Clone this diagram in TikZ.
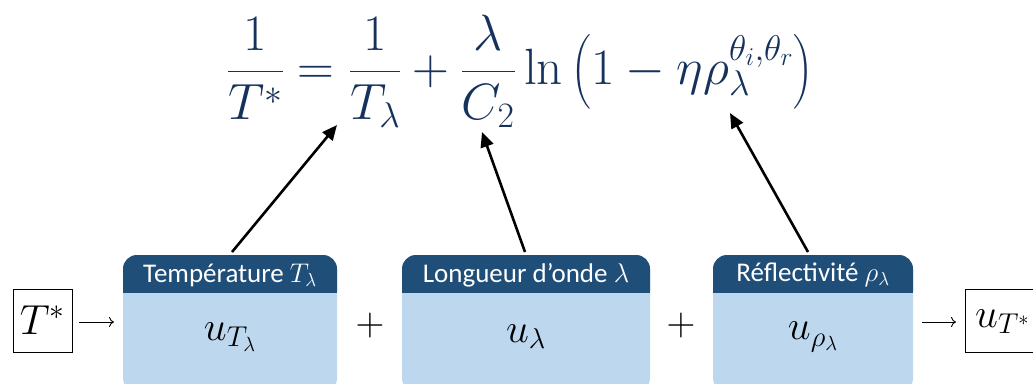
\documentclass[tikz,border=0pt]{standalone}
\usepackage{fix-cm}
\usepackage{amsmath}
\usepackage[no-math]{fontspec}
\setmainfont{Carlito}
\usetikzlibrary{arrows.meta}
\definecolor{hdr}{RGB}{31,78,121}
\definecolor{bdy}{RGB}{189,215,238}
\definecolor{eqc}{RGB}{22,50,92}
\tikzset{
  hdrtext/.style={text=white, font=\fontsize{27}{32}\selectfont, inner sep=0pt},
  bodytext/.style={font=\fontsize{41}{48}\selectfont, inner sep=0pt},
  valbox/.style={draw=black, line width=1pt, inner sep=0pt, font=\fontsize{42}{48}\selectfont},
  bigarrow/.style={line width=2.6pt, -{Triangle[length=15pt,width=13pt]}},
  smallarrow/.style={line width=0.9pt, -{To[length=5pt,width=10pt]}},
  plus/.style={font=\fontsize{40}{46}\selectfont, inner sep=0pt}
}
\newcommand{\ubox}[5]{%
  \fill[bdy, rounded corners=14pt] (#1,255) rectangle (#2,392);
  \fill[hdr, rounded corners=14pt] (#1,255) rectangle (#2,305);
  \fill[bdy] (#1,293) rectangle (#2,306);
  \node[hdrtext] (#3h) at ({(#1+#2)/2},275) {#4};
  \node[bodytext] (#3) at ({(#1+#2)/2},337) {#5};
  \coordinate (#3top) at ({(#1+#2)/2},255);
}
\begin{document}
\begin{tikzpicture}[x=1pt,y=-1pt]
\useasboundingbox (0,0) rectangle (1033,383);
% equation
\node[text=eqc, inner sep=0pt, font=\fontsize{51}{58}\selectfont] (eq) at (520,71)
  {$\displaystyle \frac{1}{T^*}=\frac{1}{T_\lambda}+\frac{\lambda}{C_2}\ln\left(1-\eta\rho_\lambda^{\theta_i,\theta_r}\right)$};
\coordinate (tT) at (337,125);
\coordinate (tC) at (482,132);
\coordinate (tR) at (730,113);
% boxes
\ubox{123}{337}{b1}{Température $T_\lambda$}{$u_{T_\lambda}$}
\ubox{402}{650}{b2}{Longueur d’onde $\lambda$}{$u_{\lambda}$}
\ubox{713}{913}{b3}{Réflectivité $\rho_\lambda$}{$u_{\rho_\lambda}$}
% arrows to equation
\draw[bigarrow] (232,252) -- (tT);
\draw[bigarrow] (525,252) -- (tC);
\draw[bigarrow] (808,252) -- (tR);
% plus signs
\node[plus] (p1) at (370,325) {$+$};
\node[plus] (p2) at (681,325) {$+$};
% input / output
\node[valbox, minimum width=59pt, minimum height=63pt] (ts) at (42.5,320.5) {$T^*$};
\draw[black, line width=1pt] (1040,289) -- (965,289) -- (965,352) -- (1040,352);
\node[inner sep=0pt, font=\fontsize{41}{48}\selectfont, anchor=west] (ut) at (975,322) {$u_{T^*}$};
\coordinate (tsr) at (79,322);
\coordinate (b1l) at (114,322);
\coordinate (b3r) at (922,322);
\coordinate (utl) at (956,322);
\draw[smallarrow] (tsr) -- (b1l);
\draw[smallarrow] (b3r) -- (utl);
\end{tikzpicture}
\end{document}
